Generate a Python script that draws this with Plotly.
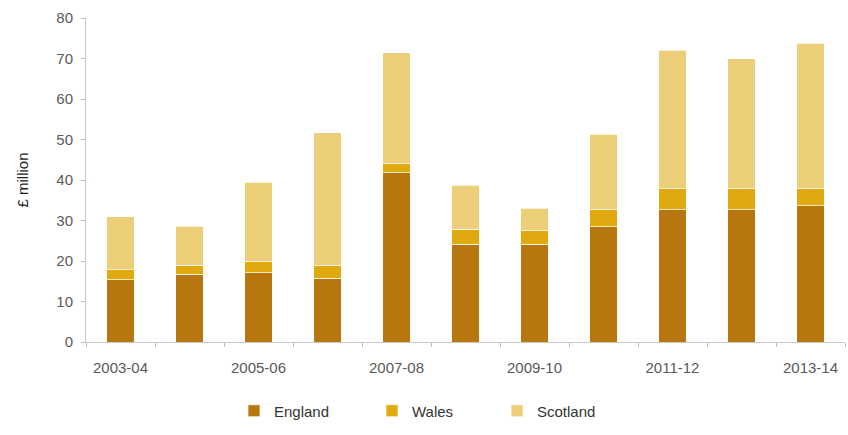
import plotly.graph_objects as go

years = ["2003-04", "2004-05", "2005-06", "2006-07", "2007-08", "2008-09",
         "2009-10", "2010-11", "2011-12", "2012-13", "2013-14"]
england = [15.4, 16.7, 17.1, 15.8, 41.8, 24.1, 24.1, 28.5, 32.6, 32.6, 33.7]
wales = [2.5, 2.3, 2.7, 3.2, 2.2, 3.8, 3.4, 4.1, 5.2, 5.2, 4.1]
scotland = [13.0, 9.6, 19.6, 32.7, 27.4, 10.8, 5.5, 18.7, 34.2, 32.2, 36.0]

# only every other year is labelled on the axis
tick_text = [y if i % 2 == 0 else "" for i, y in enumerate(years)]

series = [
    ("England", england, "#B8760E", 93),
    ("Wales", wales, "#E0A90F", 80),
    ("Scotland", scotland, "#EDCF79", 70),
]

fig = go.Figure()
for name, vals, color, lw in series:
    fig.add_trace(go.Bar(
        x=years, y=vals, name=name,
        marker=dict(color=color, line=dict(color="rgba(255,255,255,0.7)", width=1)),
        width=0.4, legendwidth=lw,
    ))

font = "Liberation Sans, Arial, sans-serif"
fig.update_layout(
    barmode="stack",
    width=848, height=435,
    margin=dict(l=86, r=3, t=18, b=93),
    paper_bgcolor="white", plot_bgcolor="white",
    font=dict(family=font, size=15, color="#5A5A5A"),
    showlegend=True,
    legend=dict(
        orientation="h", x=0.195, xanchor="left", y=-0.213, yanchor="middle",
        font=dict(family=font, size=15, color="#333333"),
        traceorder="normal",
    ),
    xaxis=dict(
        type="category", tickvals=years, ticktext=tick_text,
        tickson="boundaries", ticks="outside", ticklen=4, tickcolor="#BFBFBF",
        showline=True, linecolor="#C8C8C8", linewidth=1,
        showgrid=False, ticklabelstandoff=12,
        range=[-0.5, 10.5],
    ),
    yaxis=dict(
        range=[0, 80], dtick=10, ticks="outside", ticklen=4, tickcolor="#BFBFBF",
        showline=True, linecolor="#C8C8C8", linewidth=1,
        showgrid=False, zeroline=False, ticklabelstandoff=5,
        title=dict(text="£ million", standoff=24,
                   font=dict(family=font, size=15, color="#222222")),
    ),
)

fig.write_html("out.html")
